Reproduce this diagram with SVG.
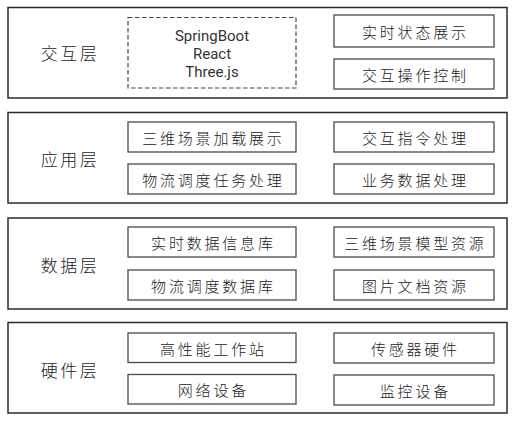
<svg xmlns="http://www.w3.org/2000/svg" width="519" height="424" viewBox="0 0 519 424">
<style>
.layer{fill:#fff;stroke:#2b2b2b;stroke-width:1.5}
.box{fill:#fff;stroke:#4a4a4a;stroke-width:1.3}
.dash{fill:#fff;stroke:#444;stroke-width:1.2;stroke-dasharray:4.5 2.5}
.lt{font-family:"Noto Sans CJK SC","Noto Sans",sans-serif;font-weight:300;font-size:17px;letter-spacing:2.5px;fill:#222;text-anchor:middle;dominant-baseline:central}
.bt{font-family:"Noto Sans CJK SC","Noto Sans",sans-serif;font-weight:300;font-size:15px;letter-spacing:2.8px;fill:#222;text-anchor:middle;dominant-baseline:central}
.et{font-family:Roboto,"Liberation Sans",sans-serif;font-size:15px;fill:#333;text-anchor:middle;dominant-baseline:central}
</style>
<rect width="519" height="424" fill="#fff"/>
<g id="layer-interaction">
<rect class="layer" x="8" y="7.5" width="499" height="90.5"/>
<text class="lt" x="70" y="52">交互层</text>
</g>
<g id="tech-stack">
<rect class="dash" x="128" y="17.5" width="168" height="70.5"/>
<text class="et" x="212" y="36">SpringBoot</text>
<text class="et" x="212" y="54">React</text>
<text class="et" x="212" y="72">Three.js</text>
</g>
<g id="n-realtime-display"><rect class="box" x="334" y="15" width="160" height="32"/><text class="bt" x="415.4" y="31">实时状态展示</text></g>
<g id="n-interaction-control"><rect class="box" x="334" y="59" width="160" height="30"/><text class="bt" x="415.4" y="74">交互操作控制</text></g>

<g id="layer-application">
<rect class="layer" x="8" y="112.5" width="499" height="90.5"/>
<text class="lt" x="70" y="158">应用层</text>
</g>
<g id="n-scene-load"><rect class="box" x="128" y="122" width="168" height="30"/><text class="bt" x="213.4" y="137">三维场景加载展示</text></g>
<g id="n-logistics-task"><rect class="box" x="128" y="164" width="168" height="30"/><text class="bt" x="213.4" y="179">物流调度任务处理</text></g>
<g id="n-interaction-cmd"><rect class="box" x="334" y="122" width="160" height="30"/><text class="bt" x="415.4" y="137">交互指令处理</text></g>
<g id="n-business-data"><rect class="box" x="334" y="164" width="160" height="30"/><text class="bt" x="415.4" y="179">业务数据处理</text></g>

<g id="layer-data">
<rect class="layer" x="8" y="218" width="499" height="91"/>
<text class="lt" x="70" y="264">数据层</text>
</g>
<g id="n-realtime-db"><rect class="box" x="128" y="227" width="168" height="30"/><text class="bt" x="213.4" y="242">实时数据信息库</text></g>
<g id="n-logistics-db"><rect class="box" x="128" y="270" width="168" height="30"/><text class="bt" x="213.4" y="285">物流调度数据库</text></g>
<g id="n-model-res"><rect class="box" x="334" y="227" width="160" height="30"/><text class="bt" x="415.4" y="242">三维场景模型资源</text></g>
<g id="n-doc-res"><rect class="box" x="334" y="270" width="160" height="30"/><text class="bt" x="415.4" y="285">图片文档资源</text></g>

<g id="layer-hardware">
<rect class="layer" x="8" y="322.5" width="499" height="90.5"/>
<text class="lt" x="70" y="369">硬件层</text>
</g>
<g id="n-workstation"><rect class="box" x="128" y="333" width="168" height="29.5"/><text class="bt" x="213.4" y="348">高性能工作站</text></g>
<g id="n-network"><rect class="box" x="128" y="374.5" width="168" height="29.5"/><text class="bt" x="213.4" y="389.5">网络设备</text></g>
<g id="n-sensor"><rect class="box" x="334" y="333" width="160" height="30"/><text class="bt" x="415.4" y="348">传感器硬件</text></g>
<g id="n-monitor"><rect class="box" x="334" y="375" width="160" height="30"/><text class="bt" x="415.4" y="390">监控设备</text></g>

<g id="connectors"></g>
</svg>
